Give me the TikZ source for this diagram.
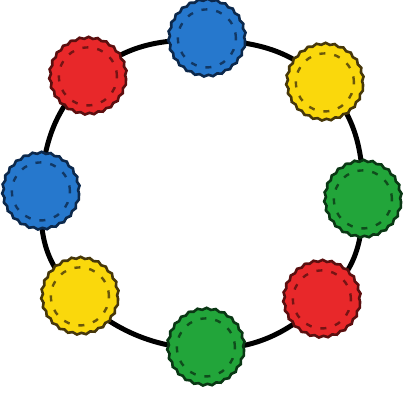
\documentclass[tikz,border=0pt]{standalone}
\usetikzlibrary{decorations.pathmorphing}
\definecolor{bblue}{RGB}{38,120,205}
\definecolor{bblueD}{RGB}{12,40,75}
\definecolor{bred}{RGB}{232,40,42}
\definecolor{bredD}{RGB}{90,15,15}
\definecolor{byellow}{RGB}{250,216,12}
\definecolor{byellowD}{RGB}{70,55,10}
\definecolor{bgreen}{RGB}{34,165,58}
\definecolor{bgreenD}{RGB}{10,55,20}
\tikzset{
  bead/.style n args={2}{circle, minimum size=76pt, inner sep=0pt,
    fill=#1, draw=#2, line width=2.6pt,
    decorate, decoration={snake, segment length=9pt, amplitude=0.9pt},
    path picture={\draw[#2!80!#1, line width=2.4pt, dash pattern=on 6pt off 9pt]
      (path picture bounding box.center) circle (29pt);}},
  ring/.style={line width=5pt, black}
}
\begin{document}
\begin{tikzpicture}[x=1pt,y=-1pt]
\useasboundingbox (0,0) rectangle (405,397);
\coordinate (p1) at (207,40);
\coordinate (p2) at (325,84);
\coordinate (p3) at (363,201);
\coordinate (p4) at (322,301);
\coordinate (p5) at (206,349);
\coordinate (p6) at (80,298);
\coordinate (p7) at (41,193);
\coordinate (p8) at (88,78);
\draw[ring] plot[smooth cycle, tension=0.75] coordinates {(p1) (p2) (p3) (p4) (p5) (p6) (p7) (p8)};
\node[bead={bblue}{bblueD}] (b1) at (p1) {};
\node[bead={byellow}{byellowD}] (b2) at (p2) {};
\node[bead={bgreen}{bgreenD}] (b3) at (p3) {};
\node[bead={bred}{bredD}] (b4) at (p4) {};
\node[bead={bgreen}{bgreenD}] (b5) at (p5) {};
\node[bead={byellow}{byellowD}] (b6) at (p6) {};
\node[bead={bblue}{bblueD}] (b7) at (p7) {};
\node[bead={bred}{bredD}] (b8) at (p8) {};
\end{tikzpicture}
\end{document}
